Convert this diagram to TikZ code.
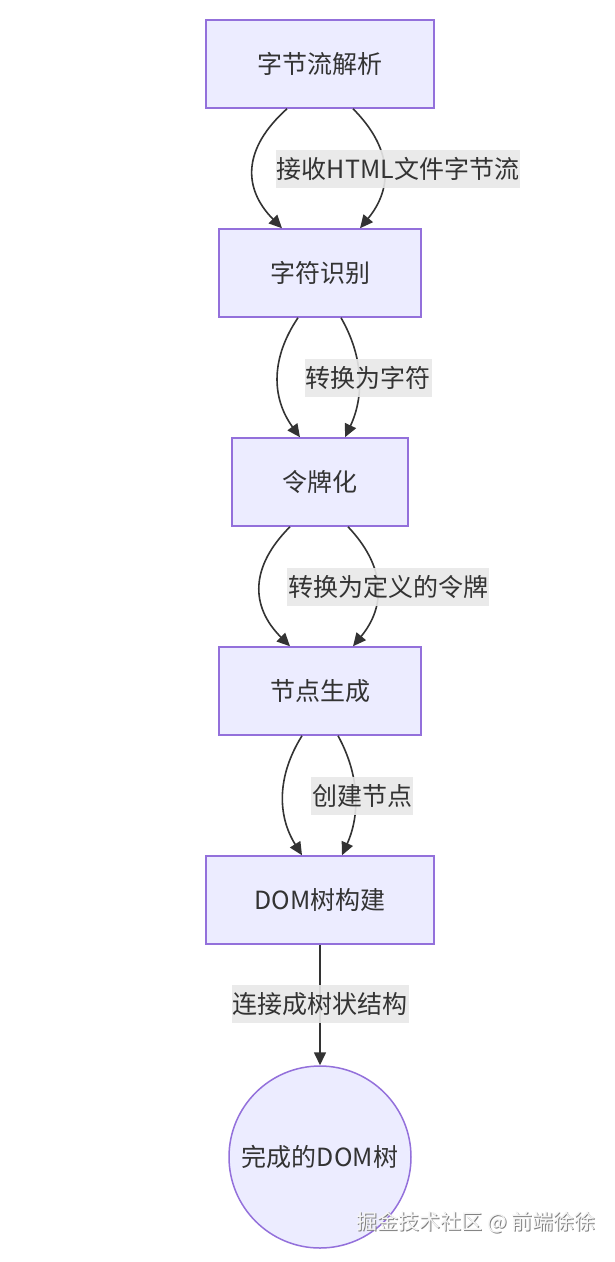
\documentclass[tikz,border=0pt]{standalone}
\usepackage{fontspec}
\setmainfont{Noto Sans CJK SC}
\usetikzlibrary{arrows.meta,calc}
\definecolor{boxfill}{HTML}{ECECFF}
\definecolor{boxline}{HTML}{9370DB}
\definecolor{txt}{HTML}{333333}
\definecolor{lblbg}{HTML}{E8E8E8}
\tikzset{
  stepbox/.style={draw=boxline, fill=boxfill, line width=1.5pt, minimum height=88pt, inner sep=0pt, text=txt, font=\fontsize{25}{30}\selectfont},
  endcircle/.style={circle, draw=boxline, fill=boxfill, line width=1.5pt, minimum size=182pt, inner sep=0pt, text=txt, font=\fontsize{25}{30}\selectfont},
  flow/.style={draw=txt, line width=1.6pt, -{Triangle[length=13pt,width=12pt]}},
  elabel/.style={fill=lblbg, fill opacity=0.9, text opacity=1, text=txt, inner xsep=1pt, minimum height=38pt, inner ysep=0pt, font=\fontsize{25}{30}\selectfont},
}
\begin{document}
\begin{tikzpicture}[x=1pt,y=-1pt]
\useasboundingbox[fill=white] (0,0) rectangle (615,1262);
\node[stepbox, minimum width=228pt] (b1) at (320,64) {字节流解析};
\node[stepbox, minimum width=202pt] (b2) at (320,273) {字符识别};
\node[stepbox, minimum width=176pt] (b3) at (320,482) {令牌化};
\node[stepbox, minimum width=202pt] (b4) at (320,691) {节点生成};
\node[stepbox, minimum width=228pt] (b5) at (320,900) {DOM树构建};
\node[endcircle] (c6) at (320,1157) {完成的DOM树};
% edge 1
\draw[flow] ([xshift=-33pt]b1.south) .. controls ($(b1.south)+(-77.5,40)$) and ($(b2.north)+(-77.5,-40)$) .. ([xshift=-38pt]b2.north);
\draw[flow] ([xshift=33pt]b1.south) .. controls ($(b1.south)+(73,40)$) and ($(b2.north)+(73,-40)$) .. ([xshift=40pt]b2.north);
% edge 2
\draw[flow] ([xshift=-22pt]b2.south) .. controls ($(b2.south)+(-49,40)$) and ($(b3.north)+(-49,-40)$) .. ([xshift=-20pt]b3.north);
\draw[flow] ([xshift=21pt]b2.south) .. controls ($(b2.south)+(44,40)$) and ($(b3.north)+(44,-40)$) .. ([xshift=25pt]b3.north);
% edge 3
\draw[flow] ([xshift=-30pt]b3.south) .. controls ($(b3.south)+(-70,40)$) and ($(b4.north)+(-70,-40)$) .. ([xshift=-30pt]b4.north);
\draw[flow] ([xshift=28pt]b3.south) .. controls ($(b3.south)+(66,40)$) and ($(b4.north)+(66,-40)$) .. ([xshift=33pt]b4.north);
% edge 4
\draw[flow] ([xshift=-18pt]b4.south) .. controls ($(b4.south)+(-43,40)$) and ($(b5.north)+(-43,-40)$) .. ([xshift=-18pt]b5.north);
\draw[flow] ([xshift=18pt]b4.south) .. controls ($(b4.south)+(40,40)$) and ($(b5.north)+(40,-40)$) .. ([xshift=22pt]b5.north);
% edge 5
\draw[flow] (b5.south) -- (c6.north);
% labels
\node[elabel] (l1) at (398,169) {接收HTML文件字节流};
\node[elabel] (l2) at (368,378) {转换为字符};
\node[elabel] (l3) at (388,587) {转换为定义的令牌};
\node[elabel] (l4) at (362,796) {创建节点};
\node[elabel] (l5) at (320,1004) {连接成树状结构};
% watermark
\node[text=gray, font=\fontsize{21}{25}\selectfont] (wms) at (477,1223) {掘金技术社区 @ 前端徐徐};
\node[text=white!92!gray, font=\fontsize{21}{25}\selectfont] (wm) at (476,1222) {掘金技术社区 @ 前端徐徐};
\end{tikzpicture}
\end{document}
